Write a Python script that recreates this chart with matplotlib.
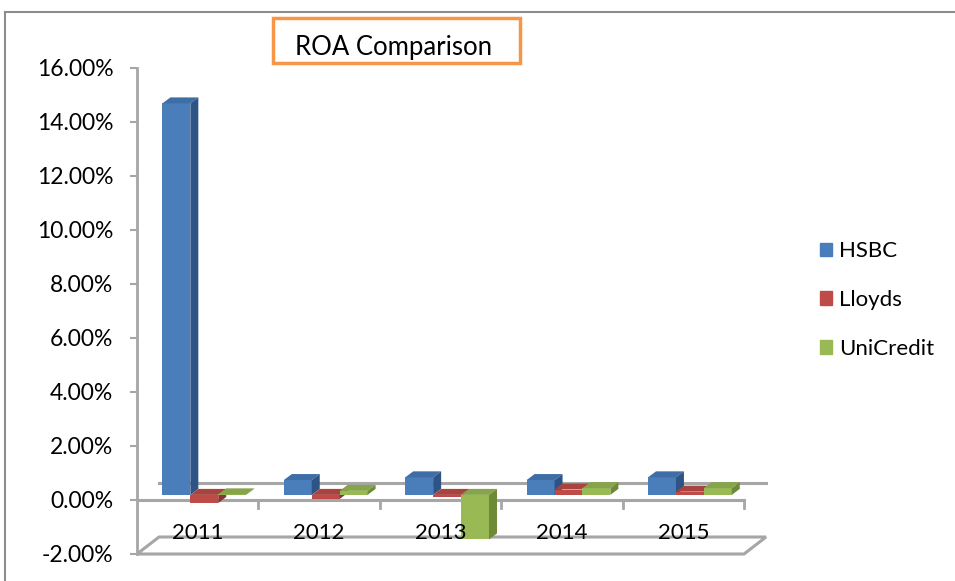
import matplotlib.pyplot as plt
from matplotlib.patches import Patch, Polygon, Rectangle
from matplotlib.lines import Line2D
import numpy as np

plt.rcParams['font.family'] = ['Lato', 'DejaVu Sans']

# data (ROA in %)
years = ['2011', '2012', '2013', '2014', '2015']
hsbc = [14.5, 0.55, 0.65, 0.55, 0.65]
lloyds = [-0.3, -0.15, -0.07, 0.2, 0.12]
unicredit = [0.02, 0.15, -1.65, 0.25, 0.25]
series_names = ['HSBC', 'Lloyds', 'UniCredit']
yticks = [-2, 0, 2, 4, 6, 8, 10, 12, 14, 16]

front_cols = ['#4A7EBB', '#BE4B48', '#98B954']
top_cols = ['#3F6DA6', '#A94340', '#86A54A']
side_cols = ['#2E5486', '#8A3533', '#6D8A36']
grey = '#A6A6A6'

W, H = 955, 581
fig = plt.figure(figsize=(W / 100, H / 100), dpi=100)

# pixel mapping: x=0 at 137px, 121.4px per category; y=0 at 500px, 27px per %
L, R, T, B = 137, 790, 60, 562
ax = fig.add_axes([L / W, 1 - B / H, (R - L) / W, (B - T) / H])
ax.set_xlim(0, (R - L) / 121.4)
ax.set_ylim((500 - B) / 27, (500 - T) / 27)

DX, DY = 22 / 121.4, 17 / 27      # full depth of the floor
dx, dy = 8 / 121.4, 6 / 27        # depth of one bar
f = 0.3                           # where bars stand in the depth
bw = 0.23

n = len(years)
# floor at -2%
floor = Polygon([(0, -2), (n, -2), (n + DX, -2 + DY), (DX, -2 + DY)],
                closed=True, fill=False, edgecolor=grey, lw=2.2, zorder=1)
ax.add_patch(floor)
# back zero line
ax.plot([DX, n + DX], [DY, DY], color=grey, lw=2.2, zorder=1)
# front category axis
ax.plot([0, n], [0, 0], color=grey, lw=2.2, zorder=1)
for k in range(1, n + 1):
    ax.plot([k, k], [0, -0.3], color=grey, lw=2, zorder=1)

data = [hsbc, lloyds, unicredit]
ox, oy = f * DX, f * DY
for k in range(n):
    for s in range(3):
        v = data[s][k]
        x0 = k + 0.5 - 1.5 * bw + s * bw + ox
        y0 = oy
        ax.bar(x0, v, width=bw, bottom=y0, align='edge', color=front_cols[s],
               edgecolor='none', zorder=3 + k * 3 + s)
        yt = y0 + max(v, 0)
        yb = y0 + min(v, 0)
        ax.add_patch(Polygon([(x0, yt), (x0 + bw, yt), (x0 + bw + dx, yt + dy), (x0 + dx, yt + dy)],
                             closed=True, color=top_cols[s], lw=0, zorder=3 + k * 3 + s))
        ax.add_patch(Polygon([(x0 + bw, yb), (x0 + bw + dx, yb + dy), (x0 + bw + dx, yt + dy), (x0 + bw, yt)],
                             closed=True, color=side_cols[s], lw=0, zorder=3 + k * 3 + s))

for k, y in enumerate(years):
    ax.text(k + 0.5, -1.22, y, ha='center', va='center', fontsize=16, zorder=50)

for sp in ['top', 'right', 'bottom']:
    ax.spines[sp].set_visible(False)
ax.spines['left'].set_bounds(-2, 16)
ax.spines['left'].set_color(grey)
ax.spines['left'].set_linewidth(2)
ax.set_xticks([])
ax.set_yticks(yticks)
ax.set_yticklabels(['%.2f%%' % t for t in yticks], fontsize=16.5)
ax.tick_params(axis='y', length=5, width=1.5, color=grey, pad=12)
ax.patch.set_alpha(0)

# title box
fig.text(394 / W, 1 - 47 / H, 'ROA Comparison', ha='center', va='center', fontsize=18.5)
fig.patches.append(Rectangle((273 / W, 1 - 63 / H), 247 / W, 45 / H, transform=fig.transFigure,
                             fill=False, edgecolor='#F79646', lw=2.5))

# outer border (top and left visible)
fig.lines.append(Line2D([5 / W, 1.0], [1 - 12 / H, 1 - 12 / H], transform=fig.transFigure, color='#8C8C8C', lw=1.5))
fig.lines.append(Line2D([5 / W, 5 / W], [0, 1 - 12 / H], transform=fig.transFigure, color='#8C8C8C', lw=1.5))

handles = [Patch(color=c) for c in front_cols]
fig.legend(handles, series_names, loc='center left', bbox_to_anchor=(800 / W, 1 - 300 / H),
           frameon=False, fontsize=16, handlelength=0.55, handleheight=0.55,
           handletextpad=0.3, labelspacing=1.3)

fig.savefig('out.png', dpi=100)
